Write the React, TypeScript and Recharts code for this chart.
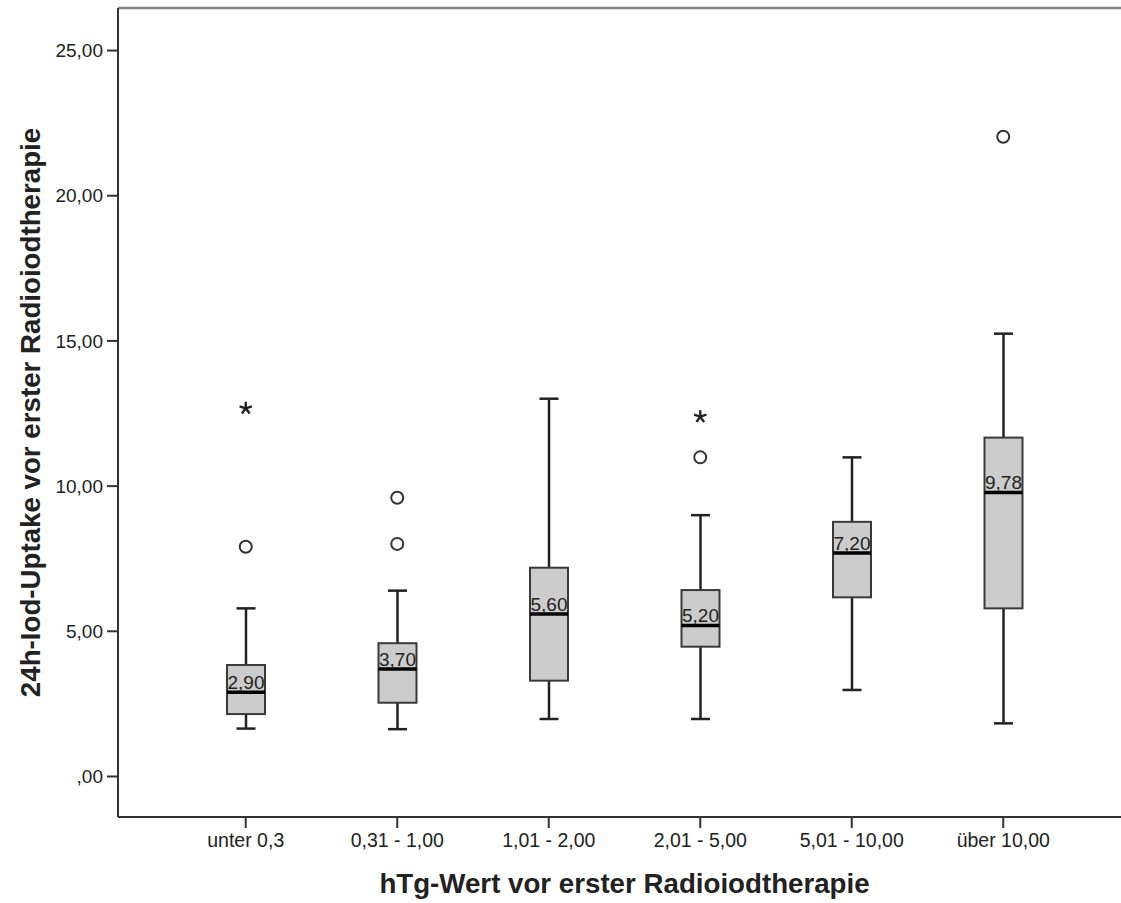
import React from "react";
import {
  ComposedChart,
  Bar,
  Line,
  XAxis,
  YAxis,
  ReferenceLine,
  Label,
} from "recharts";

const categories = [
  "unter 0,3",
  "0,31 - 1,00",
  "1,01 - 2,00",
  "2,01 - 5,00",
  "5,01 - 10,00",
  "über 10,00",
];
const whiskerLow = [1.65, 1.63, 1.98, 1.98, 2.98, 1.83];
const q1 = [2.15, 2.54, 3.3, 4.47, 6.17, 5.79];
const median = [2.9, 3.7, 5.6, 5.2, 7.7, 9.78];
const q3 = [3.84, 4.59, 7.19, 6.42, 8.77, 11.67];
const whiskerHigh = [5.79, 6.4, 13.01, 9.0, 10.99, 15.25];
const medianLabels = ["2,90", "3,70", "5,60", "5,20", "7,20", "9,78"];
const outlierA: (number | null)[] = [7.91, 8.01, null, 10.99, null, 22.03];
const outlierB: (number | null)[] = [null, 9.6, null, null, null, null];
const extremes: (number | null)[] = [12.68, null, null, 12.39, null, null];
const yTicks = [0, 5, 10, 15, 20, 25];

const FONT = '"Liberation Sans", Arial, sans-serif';

const data = categories.map((name, i) => ({
  name,
  range: [whiskerLow[i], whiskerHigh[i]],
  low: whiskerLow[i],
  q1: q1[i],
  median: median[i],
  q3: q3[i],
  high: whiskerHigh[i],
  label: medianLabels[i],
  outA: outlierA[i],
  outB: outlierB[i],
  ext: extremes[i],
}));

const fmt = (v: number) => (v === 0 ? ",00" : v.toFixed(2).replace(".", ","));

const BoxShape = (props: any) => {
  const { x, y, width, height, payload } = props;
  if (x == null || y == null || !payload) return null;
  const top = Math.min(y, y + height);
  const h = Math.abs(height);
  const lo = payload.low;
  const hi = payload.high;
  const pix = (v: number) => top + (h * (hi - v)) / (hi - lo);
  const cx = x + width / 2;
  const cap = width / 2;
  const yq1 = pix(payload.q1);
  const yq3 = pix(payload.q3);
  const ymed = pix(payload.median);
  return (
    <g>
      <line x1={cx} x2={cx} y1={pix(hi)} y2={yq3} stroke="#222" strokeWidth={2.5} />
      <line x1={cx} x2={cx} y1={yq1} y2={pix(lo)} stroke="#222" strokeWidth={2.5} />
      <line x1={cx - cap / 2} x2={cx + cap / 2} y1={pix(hi)} y2={pix(hi)} stroke="#222" strokeWidth={2.5} />
      <line x1={cx - cap / 2} x2={cx + cap / 2} y1={pix(lo)} y2={pix(lo)} stroke="#222" strokeWidth={2.5} />
      <rect x={x} y={yq3} width={width} height={yq1 - yq3} fill="#cccccc" stroke="#3a3a3a" strokeWidth={2} />
      <line x1={x} x2={x + width} y1={ymed} y2={ymed} stroke="#000" strokeWidth={3.5} />
      <text
        x={cx}
        y={ymed - 3}
        textAnchor="middle"
        fontFamily={FONT}
        fontSize={19}
        fill="#222"
      >
        {payload.label}
      </text>
    </g>
  );
};

const CircleDot = (props: any) => {
  const { cx, cy, value } = props;
  if (value == null || cy == null || isNaN(cy)) return <g />;
  return <circle cx={cx} cy={cy} r={6} fill="#fff" stroke="#333" strokeWidth={2} />;
};

const StarDot = (props: any) => {
  const { cx, cy, value } = props;
  if (value == null || cy == null || isNaN(cy)) return <g />;
  const r = 6.5;
  const arms = [0, 1, 2, 3, 4].map((k) => {
    const a = (-90 + k * 72) * (Math.PI / 180);
    return (
      <line
        key={k}
        x1={cx}
        y1={cy}
        x2={cx + r * Math.cos(a)}
        y2={cy + r * Math.sin(a)}
        stroke="#222"
        strokeWidth={2.4}
      />
    );
  });
  return <g>{arms}</g>;
};

const YTitle = (props: any) => {
  const vb = props.viewBox || {};
  const cx = 30;
  const cy = (vb.y ?? 0) + (vb.height ?? 0) / 2;
  return (
    <text
      x={cx}
      y={cy}
      transform={`rotate(-90, ${cx}, ${cy})`}
      textAnchor="middle"
      dominantBaseline="central"
      fontFamily={FONT}
      fontWeight="bold"
      fontSize={27.7}
      fill="#222"
    >
      24h-Iod-Uptake vor erster Radioiodtherapie
    </text>
  );
};

const XTitle = (props: any) => {
  const vb = props.viewBox || {};
  const cx = (vb.x ?? 0) + (vb.width ?? 0) / 2;
  return (
    <text
      x={cx}
      y={893}
      textAnchor="middle"
      fontFamily={FONT}
      fontWeight="bold"
      fontSize={27.7}
      fill="#222"
    >
      hTg-Wert vor erster Radioiodtherapie
    </text>
  );
};

export default function App() {
  return (
    <div
      style={{
        position: "fixed",
        left: 0,
        top: 0,
        width: 1121,
        height: 903,
        overflow: "hidden",
        background: "#fff",
      }}
    >
      <ComposedChart
        width={1140}
        height={903}
        data={data}
        margin={{ top: 8, right: 9, left: 0, bottom: 0 }}
      >
        <XAxis
          dataKey="name"
          type="category"
          height={86}
          padding={{ left: 52, right: 52 }}
          tickSize={11}
          tickMargin={5}
          tick={{ fontSize: 19.5, fill: "#222", fontFamily: FONT }}
          tickLine={{ stroke: "#333", strokeWidth: 2 }}
          axisLine={{ stroke: "#333", strokeWidth: 2 }}
          interval={0}
        >
          <Label content={<XTitle />} />
        </XAxis>
        <YAxis
          width={118}
          type="number"
          domain={[-1.395, 26.465]}
          ticks={yTicks}
          allowDataOverflow
          tickFormatter={fmt}
          tickSize={11}
          tickMargin={4}
          tick={{ fontSize: 19, fill: "#222", fontFamily: FONT }}
          tickLine={{ stroke: "#333", strokeWidth: 2 }}
          axisLine={{ stroke: "#333", strokeWidth: 2 }}
        >
          <Label content={<YTitle />} />
        </YAxis>
        <ReferenceLine y={26.465} stroke="#888" strokeWidth={2.5} ifOverflow="visible" />
        <Bar
          dataKey="range"
          barSize={38}
          shape={<BoxShape />}
          isAnimationActive={false}
        />
        <Line
          dataKey="outA"
          stroke="none"
          dot={<CircleDot />}
          activeDot={false}
          isAnimationActive={false}
          legendType="none"
        />
        <Line
          dataKey="outB"
          stroke="none"
          dot={<CircleDot />}
          activeDot={false}
          isAnimationActive={false}
          legendType="none"
        />
        <Line
          dataKey="ext"
          stroke="none"
          dot={<StarDot />}
          activeDot={false}
          isAnimationActive={false}
          legendType="none"
        />
      </ComposedChart>
    </div>
  );
}
